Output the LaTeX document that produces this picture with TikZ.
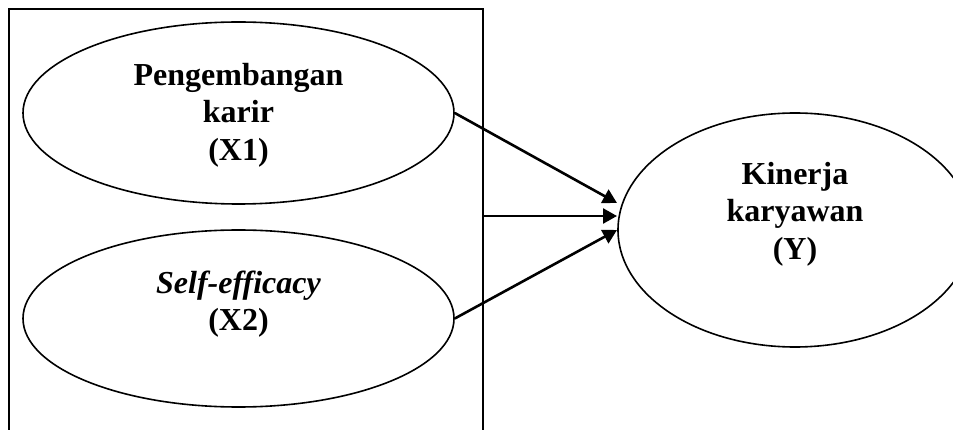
\documentclass[tikz,border=0pt]{standalone}
\usepackage{fontspec}
\setmainfont{Liberation Serif}
\usetikzlibrary{shapes.geometric,arrows.meta}
\begin{document}
\begin{tikzpicture}[x=1pt,y=-1pt,
  latent/.style={draw,ellipse,line width=1.6pt,inner sep=0pt},
  lbl/.style={font=\fontsize{32}{37.5}\selectfont\bfseries,align=center,inner sep=0pt},
  arr/.style={line width=2.6pt,-{Triangle[length=14pt,width=15pt]}}]
\clip (0,0) rectangle (953,430);
\useasboundingbox (0,0) rectangle (953,430);
\draw[line width=1.8pt] (9,440) -- (9,9) -- (483,9) -- (483,440);
\node[latent,minimum width=431pt,minimum height=182pt] (x1) at (238.5,113) {};
\node[latent,minimum width=431pt,minimum height=177pt] (x2) at (238.5,318.5) {};
\node[latent,minimum width=354pt,minimum height=234pt] (y) at (795,230) {};
\node[lbl] (tx1) at (238.5,115) {Pengembangan\\karir\\(X1)};
\node[lbl] (tx2) at (238.5,304) {\textit{Self-efficacy}\\(X2)};
\node[lbl] (ty) at (795,214) {Kinerja\\karyawan\\(Y)};
\coordinate (m) at (483,216);
\coordinate (t1) at (617,203);
\coordinate (t2) at (617,216);
\coordinate (t3) at (617,230);
\draw[arr] (x1.east) -- (t1);
\draw[arr] (m) -- (t2);
\draw[arr] (x2.east) -- (t3);
\end{tikzpicture}
\end{document}
